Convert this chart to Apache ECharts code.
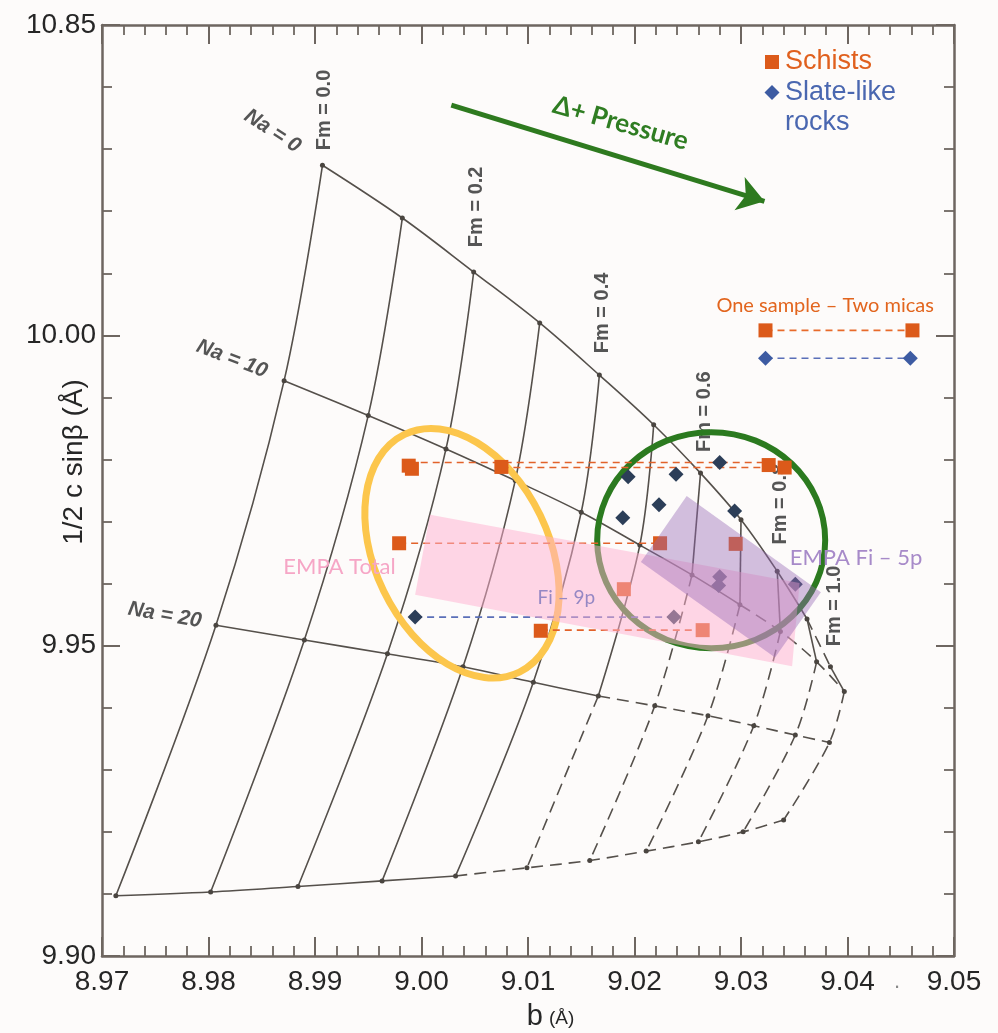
<!DOCTYPE html>
<html><head><meta charset="utf-8">
<script src="https://cdn.jsdelivr.net/npm/echarts@6/dist/echarts.min.js"></script>
<style>html,body{margin:0;padding:0;background:#fdfbfa}#c{width:998px;height:1033px}</style>
</head><body><div id="c"></div>
<script>
// ---------- axes ----------
const xRange = [8.97, 9.05];
const yRange = [9.90, 10.05];
const xTickLabels = ['8.97','8.98','8.99','9.00','9.01','9.02','9.03','9.04','9.05'];
const yTickLabels = ['9.90','9.95','10.00','10.85'];

// ---------- grid (Na lines, nodes at Fm = 0.0 ... 1.0) ----------
const na0  = [[8.9907,10.0274],[8.9982,10.0189],[9.0049,10.0102],[9.0111,10.0020],[9.0167,9.9936],[9.0218,9.9856],[9.0262,9.9778],[9.0300,9.9703],[9.0334,9.9620],[9.0362,9.9543],[9.0384,9.9466]];
const na10 = [[8.9871,9.9927],[8.9950,9.9871],[9.0023,9.9817],[9.0088,9.9766],[9.0150,9.9715],[9.0205,9.9662],[9.0254,9.9614],[9.0299,9.9566],[9.0337,9.9523],[9.0371,9.9474],[9.0397,9.9426]];
const na20 = [[8.9807,9.9533],[8.9890,9.9509],[8.9968,9.9487],[9.0039,9.9466],[9.0105,9.9441],[9.0166,9.9419],[9.0219,9.9403],[9.0269,9.9387],[9.0312,9.9371],[9.0351,9.9356],[9.0383,9.9344]];
const na30 = [[8.9713,9.9097],[8.9802,9.9103],[8.9884,9.9112],[8.9963,9.9121],[9.0032,9.9129],[9.0099,9.9142],[9.0158,9.9154],[9.0211,9.9169],[9.0260,9.9184],[9.0302,9.9200],[9.0340,9.9219]];

// ---------- measurements ----------
const schists = [[8.9988,9.9790],[8.9991,9.9785],[9.0075,9.9788],[9.0326,9.9791],[9.0341,9.9787],[8.9979,9.9665],[9.0224,9.9665],[9.0295,9.9664],[9.0190,9.9591],[9.0112,9.9524],[9.0264,9.9525]];
const slates  = [[8.9994,9.9546],[9.0237,9.9546],[9.0280,9.9795],[9.0239,9.9776],[9.0194,9.9772],[9.0223,9.9727],[9.0189,9.9706],[9.0294,9.9717],[9.0280,9.9611],[9.0279,9.9597],[9.0351,9.9599]];
const schistPairs = [[[8.9988,9.9795],[9.0326,9.9795]],[[9.0075,9.9787],[9.0341,9.9787]],[[8.9979,9.9665],[9.0224,9.9665]],[[9.0112,9.9525],[9.0264,9.9525]]];
const slatePairs  = [[[8.9994,9.9546],[9.0237,9.9546]]];
const sampleSchist = [[9.0323,10.0008],[9.0461,10.0008]];
const sampleSlate  = [[9.0323,9.9963],[9.0459,9.9963]];

// ---------- regions ----------
const pinkRegion   = [[9.0008,9.9711],[9.0355,9.9601],[9.0348,9.9467],[8.9994,9.9582]];
const purpleRegion = [[9.0249,9.9741],[9.0375,9.9586],[9.0332,9.9481],[9.0206,9.9635]];
const yellowCenter = [9.0038,9.9649];
const greenCenter  = [9.0272,9.9670];
const pressureArrow = [[9.0028,10.0371],[9.0322,10.0216]];

// ---------- annotations ----------
const naLabelText = ['Na = 0','Na = 10','Na = 20'];
const naLabelPos  = [[8.9860,10.0329],[8.9822,9.9962],[8.9759,9.9549]];
const fmLabelText = ['Fm = 0.0','Fm = 0.2','Fm = 0.4','Fm = 0.6','Fm = 0.8','Fm = 1.0'];
const fmLabelPos  = [[8.9909,10.0363],[9.0052,10.0207],[9.0170,10.0036],[9.0266,9.9877],[9.0337,9.9728],[9.0388,9.9564]];
const noteText = ['Δ+ Pressure','EMPA Total','Fi – 9p','EMPA Fi – 5p','One sample – Two micas'];
const notePos  = [[9.0187,10.0342],[8.9923,9.9627],[9.0136,9.9577],[9.0408,9.9641],[9.0379,10.0048]];
const axisTitleX = 'b';
const axisTitleXUnit = '(Å)';
const axisTitleY = '1/2 c sinβ (Å)';

// ================= styling / construction =================
const GRID_C = '#55504b';
const AX_C = '#6e6660';
const naSolidEnd = [9, 7, 5, 4];
const fmSolidEnd = [3,3,3,3,3,2,1,1,1,1,1];
const naRot = [-33, -21, -10];
const noteStyle = [
  {fill:'#2f7d22', size:26, weight:'bold', rot:-15.8},
  {fill:'#f6a6c6', size:22, weight:'normal', rot:0},
  {fill:'#9688c4', size:19, weight:'normal', rot:0},
  {fill:'#a78ac9', size:22, weight:'normal', rot:0},
  {fill:'#e2651e', size:20, weight:'normal', rot:0}
];
const NOTE_FONT = 'Lato, "Open Sans", "DejaVu Sans", sans-serif';
const GRAY_FONT = '"Liberation Sans", Arial, sans-serif';

const series = [];
function gridLine(data, dashed){
  return {type:'line', data, smooth:0.35, symbol:'none', silent:true, z:1,
    lineStyle:{color:GRID_C, width:1.6, type: dashed ? [12,7] : 'solid'}};
}
const naLines = [na0, na10, na20, na30];
naLines.forEach((pts, k) => {
  const e = naSolidEnd[k];
  series.push(gridLine(pts.slice(0, e + 1), false));
  if (e < pts.length - 1) series.push(gridLine(pts.slice(e), true));
});
for (let i = 0; i < na0.length; i++) {
  const pts = naLines.map(l => l[i]);
  const e = fmSolidEnd[i];
  series.push(gridLine(pts.slice(0, e + 1), false));
  if (e < pts.length - 1) series.push(gridLine(pts.slice(e), true));
}
series.push({type:'scatter', data: naLines.flat(), symbol:'circle', symbolSize:5, silent:true, z:2,
  itemStyle:{color:'#4a4540', opacity:1}});

function textSeries(texts, pos, styleFor, z){
  return {type:'custom', data: pos, z, silent:true, clip:false,
    renderItem(params, api){
      const i = params.dataIndex;
      const p = api.coord([api.value(0), api.value(1)]);
      const s = styleFor(i);
      return {type:'text', x:p[0], y:p[1], rotation: s.rot * Math.PI / 180,
        style:{text: texts[i], fill: s.fill, fontSize: s.size, fontFamily: s.family,
          fontWeight: s.weight, fontStyle: s.style || 'normal', align:'center', verticalAlign:'middle'}};
    }};
}
series.push(textSeries(naLabelText, naLabelPos, i => ({fill:'#555', size:21, weight:'bold', style:'italic', family:GRAY_FONT, rot:naRot[i]}), 2));
series.push(textSeries(fmLabelText, fmLabelPos, i => ({fill:'#555', size:20, weight:'bold', family:GRAY_FONT, rot:90}), 2));

function ellipseSeries(center, rx, ry, rotDeg, stroke, width){
  return {type:'custom', data:[center], z:3, silent:true,
    renderItem(params, api){
      const p = api.coord([api.value(0), api.value(1)]);
      return {type:'ellipse', x:p[0], y:p[1], rotation: rotDeg * Math.PI / 180,
        shape:{cx:0, cy:0, rx, ry}, style:{fill:'none', stroke, lineWidth:width}};
    }};
}
series.push(ellipseSeries(greenCenter, 114, 108, 0, '#2b7a1f', 6));
series.push(ellipseSeries(yellowCenter, 87, 132, 25.8, '#fcc64c', 7));

function pairSeries(pairs, color){
  return pairs.map(pr => ({type:'line', data: pr, symbol:'none', silent:true, z:4,
    lineStyle:{color, width:1.6, type:[7,5]}}));
}
series.push(...pairSeries(schistPairs, '#e2622a'));
series.push(...pairSeries(slatePairs, '#5a6fb8'));
series.push(...pairSeries([sampleSchist], '#e86a2a'));
series.push(...pairSeries([sampleSlate], '#5a6fb8'));

series.push({type:'scatter', name:'Schists', data: schists, symbol:'rect', symbolSize:14, z:5,
  itemStyle:{color:'#dc5a1a', opacity:1}});
series.push({type:'scatter', name:'Slate-like rocks', data: slates, symbol:'diamond', symbolSize:15, z:5,
  itemStyle:{color:'#2c3e58', opacity:1}});
series.push({type:'scatter', data: sampleSchist, symbol:'rect', symbolSize:14, z:5, itemStyle:{color:'#dc5a1a', opacity:1}});
series.push({type:'scatter', data: sampleSlate, symbol:'diamond', symbolSize:15, z:5, itemStyle:{color:'#3d5ba2', opacity:1}});

function regionSeries(poly, fill, z){
  return {type:'custom', data:[poly[0]], z, silent:true,
    renderItem(params, api){
      return {type:'polygon', shape:{points: poly.map(p => api.coord(p))}, style:{fill}};
    }};
}
series.push(regionSeries(pinkRegion, 'rgba(255,176,208,0.5)', 6));
series.push(regionSeries(purpleRegion, 'rgba(150,105,180,0.42)', 7));

series.push({type:'lines', coordinateSystem:'cartesian2d', z:8, silent:true,
  data:[{coords: pressureArrow}], symbol:['none','arrow'], symbolSize:[0,26],
  lineStyle:{color:'#2e7a1f', width:5, opacity:1, curveness:0}});
series.push(textSeries(noteText, notePos, i => Object.assign({family:NOTE_FONT}, noteStyle[i]), 9));

function axisCommon(extra){
  return Object.assign({
    type:'value', splitLine:{show:false},
    axisLine:{show:true, onZero:false, lineStyle:{color:AX_C, width:2.5}}
  }, extra);
}
const xFmt = v => xTickLabels[Math.round((v - xRange[0]) / 0.01)] || '';
const yFmt = v => yTickLabels[Math.round((v - yRange[0]) / 0.05)] || '';
const xTick = {show:true, inside:true, length:19, lineStyle:{color:AX_C, width:2}};
const yTick = {show:true, inside:true, length:18, lineStyle:{color:AX_C, width:2}};
const minor = {show:true, splitNumber:5, length:10, lineStyle:{color:AX_C, width:1.8}};

const option = {
  backgroundColor:'#fdfbfa',
  animation:false,
  grid:{left:102, right:44, top:25, bottom:77, containLabel:false, outerBoundsMode:'none'},
  xAxis:[
    axisCommon({min:xRange[0], max:xRange[1], interval:0.01, position:'bottom', axisTick:xTick, minorTick:minor,
      axisLabel:{fontSize:28, color:'#262626', margin:12, fontFamily:GRAY_FONT, formatter:xFmt, showMinLabel:true, showMaxLabel:true}}),
    axisCommon({min:xRange[0], max:xRange[1], interval:0.01, position:'top', axisTick:xTick, minorTick:minor,
      axisLabel:{show:false}})
  ],
  yAxis:[
    axisCommon({min:yRange[0], max:yRange[1], interval:0.05, position:'left', axisTick:yTick, minorTick:minor,
      axisLabel:{fontSize:28, color:'#262626', margin:6, fontFamily:GRAY_FONT, formatter:yFmt, showMinLabel:true, showMaxLabel:true}}),
    axisCommon({min:yRange[0], max:yRange[1], interval:0.05, position:'right', axisTick:yTick, minorTick:minor,
      axisLabel:{show:false}})
  ],
  graphic:[
    {type:'text', x:74, y:462, rotation:Math.PI/2, style:{text:axisTitleY, fill:'#262626', fontSize:28, fontFamily:GRAY_FONT, align:'center', verticalAlign:'middle'}, z:10},
    {type:'text', x:543, y:1017, style:{text:axisTitleX, fill:'#262626', fontSize:29, fontFamily:GRAY_FONT, align:'right', verticalAlign:'middle'}, z:10},
    {type:'text', x:549, y:1019, style:{text:axisTitleXUnit, fill:'#262626', fontSize:19, fontFamily:GRAY_FONT, align:'left', verticalAlign:'middle'}, z:10},
    {type:'rect', shape:{x:765, y:55, width:14, height:14}, style:{fill:'#dc5a1a'}, z:10},
    {type:'text', x:785, y:62, style:{text:'Schists', fill:'#e0601e', fontSize:27, fontFamily:GRAY_FONT, verticalAlign:'middle'}, z:10},
    {type:'polygon', shape:{points:[[772,85],[779.5,92.5],[772,100],[764.5,92.5]]}, style:{fill:'#3d5ba2'}, z:10},
    {type:'text', x:785, y:93, style:{text:'Slate-like', fill:'#4a67b0', fontSize:27, fontFamily:GRAY_FONT, verticalAlign:'middle'}, z:10},
    {type:'text', x:785, y:123, style:{text:'rocks', fill:'#4a67b0', fontSize:27, fontFamily:GRAY_FONT, verticalAlign:'middle'}, z:10},
    {type:'text', x:897, y:982, style:{text:'.', fill:'#888', fontSize:22, fontFamily:GRAY_FONT, align:'center', verticalAlign:'middle'}, z:10}
  ],
  series
};
const chart = echarts.init(document.getElementById('c'), null, {renderer:'canvas'});
chart.setOption(option);
</script></body></html>
